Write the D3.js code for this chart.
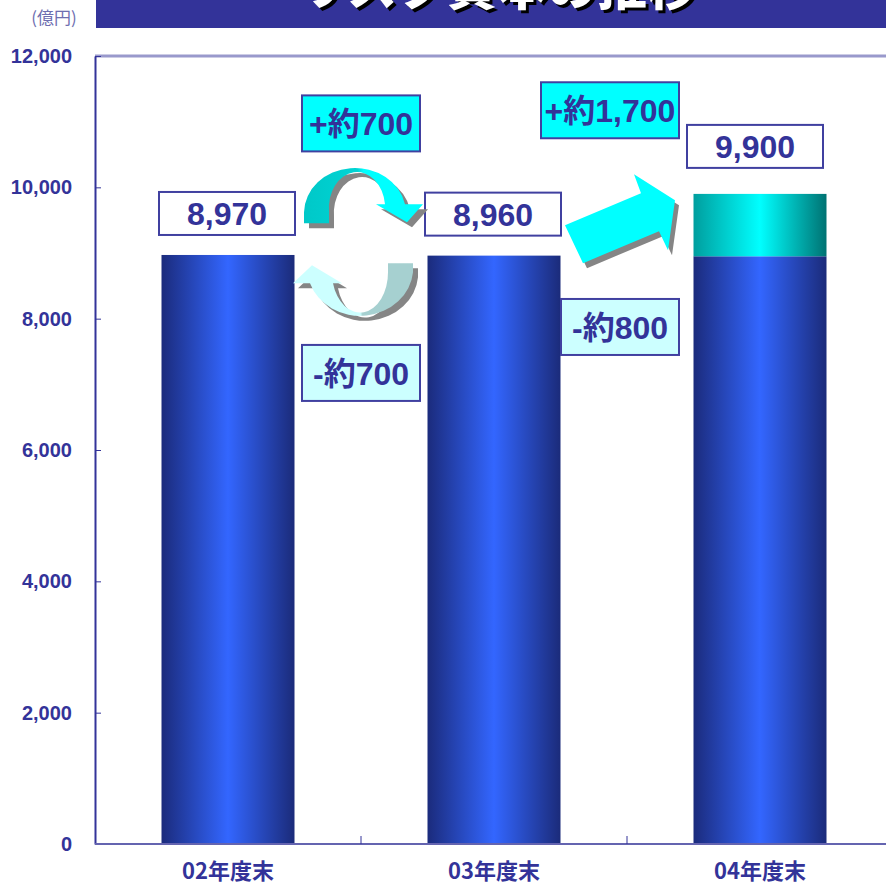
<!DOCTYPE html>
<html>
<head>
<meta charset="utf-8">
<script src="https://cdn.jsdelivr.net/npm/d3@7"></script>
<style>
  body { margin: 0; background: #fff; }
  svg { display: block; }
  text { font-family: "Liberation Sans", Arial, "Noto Sans CJK JP", sans-serif; font-weight: bold; }
</style>
</head>
<body>
<svg id="chart" width="886" height="884"></svg>
<script>
// data
const categories = ['02年度末', '03年度末', '04年度末'];
const baseValues = [8970, 8960, 8950];
const addedValues = [0, 0, 950];
const totalLabels = ['8,970', '8,960', '9,900'];
const yTicks = [0, 2000, 4000, 6000, 8000, 10000, 12000];
const changeLabels = ['+約700', '-約700', '+約1,700', '-約800'];

const svg = d3.select('#chart');
const ink = '#333399';

const x = d3.scaleBand()
    .domain(categories)
    .range([95, 893])
    .paddingInner(0.5)
    .paddingOuter(0.25);

const y = d3.scaleLinear()
    .domain([0, 12000])
    .range([844, 56]);

const defs = svg.append('defs');

function hGrad(id, stops) {
    const g = defs.append('linearGradient').attr('id', id)
        .attr('x1', 0).attr('x2', 1).attr('y1', 0).attr('y2', 0);
    stops.forEach(s => g.append('stop').attr('offset', s[0]).attr('stop-color', s[1]));
}
hGrad('barBlue', [[0, '#1b2b7c'], [0.5, '#3366ff'], [1, '#1b2b7a']]);
hGrad('barTeal', [[0, '#009e9e'], [0.5, '#00ffff'], [1, '#007272']]);
hGrad('arrowTop', [[0, '#00c8c8'], [0.45, '#00d4d4'], [0.5, '#00ffff'], [1, '#00ffff']]);
hGrad('arrowBottom', [[0, '#ccffff'], [0.56, '#ccffff'], [0.58, '#a6d0d0'], [1, '#a6d0d0']]);

// title band (cut off at top, as in the original)
svg.append('rect')
    .attr('x', 96).attr('y', 0)
    .attr('width', 790).attr('height', 28)
    .attr('fill', ink);

const title = 'リスク資本の推移';
svg.append('text')
    .attr('x', 500).attr('y', 8)
    .attr('text-anchor', 'middle')
    .attr('font-size', 50)
    .attr('fill', '#000')
    .style('font-family', '"Noto Sans CJK JP"')
    .style('font-weight', 900)
    .text(title);
svg.append('text')
    .attr('x', 497).attr('y', 5)
    .attr('text-anchor', 'middle')
    .attr('font-size', 50)
    .attr('fill', '#fff')
    .style('font-family', '"Noto Sans CJK JP"')
    .style('font-weight', 900)
    .text(title);

svg.append('text')
    .attr('x', 54).attr('y', 24)
    .attr('text-anchor', 'middle')
    .attr('font-size', 17)
    .attr('fill', '#6e6eb0')
    .style('font-family', '"Noto Sans CJK JP"')
    .style('font-weight', 400)
    .text('(億円)');

// top frame line
svg.append('line')
    .attr('x1', 95).attr('x2', 886)
    .attr('y1', y(12000)).attr('y2', y(12000))
    .attr('stroke', '#9999cc').attr('stroke-width', 3);

// bars
const bw = x.bandwidth();
const bars = svg.append('g');
bars.selectAll('rect.base')
    .data(categories)
    .enter().append('rect')
    .attr('class', 'base')
    .attr('x', d => x(d))
    .attr('y', (d, i) => y(baseValues[i]))
    .attr('width', bw)
    .attr('height', (d, i) => y(0) - y(baseValues[i]))
    .attr('fill', 'url(#barBlue)');

bars.selectAll('rect.add')
    .data(categories.filter((d, i) => addedValues[i] > 0))
    .enter().append('rect')
    .attr('class', 'add')
    .attr('x', d => x(d))
    .attr('y', d => {
        const i = categories.indexOf(d);
        return y(baseValues[i] + addedValues[i]);
    })
    .attr('width', bw)
    .attr('height', d => {
        const i = categories.indexOf(d);
        return y(baseValues[i]) - y(baseValues[i] + addedValues[i]);
    })
    .attr('fill', 'url(#barTeal)');

// y axis
const yAxis = svg.append('g')
    .attr('transform', 'translate(95,0)')
    .call(d3.axisLeft(y)
        .tickValues(yTicks)
        .tickFormat(d3.format(','))
        .tickSize(-6)
        .tickSizeOuter(0)
        .tickPadding(23));
yAxis.select('.domain').attr('stroke', ink).attr('stroke-width', 2);
yAxis.selectAll('.tick line').attr('stroke', ink);
yAxis.selectAll('.tick text')
    .attr('fill', ink)
    .attr('font-size', 20)
    .style('font-family', '"Liberation Sans", Arial, sans-serif');

// x axis
const xAxis = svg.append('g')
    .attr('transform', `translate(0,${y(0)})`)
    .call(d3.axisBottom(x).tickSize(0).tickPadding(19));
xAxis.select('.domain').attr('stroke', '#6464b0').attr('stroke-width', 2)
    .attr('d', 'M95,0H886');
xAxis.selectAll('.tick text')
    .attr('fill', ink)
    .attr('font-size', 22)
    .style('font-family', '"Noto Sans CJK JP"')
    .style('font-weight', 700);

const step = x.step();
const bounds = categories.slice(0, -1).map(c => x(c) + bw + (step - bw) / 2);
xAxis.selectAll('line.sep')
    .data(bounds)
    .enter().append('line')
    .attr('class', 'sep')
    .attr('x1', d => d).attr('x2', d => d)
    .attr('y1', 0).attr('y2', -8)
    .attr('stroke', ink);

// total labels above bars
const boxW = 136, boxH = 43;
const totals = baseValues.map((v, i) => v + addedValues[i]);
const lbl = svg.append('g').selectAll('g')
    .data(categories)
    .enter().append('g')
    .attr('transform', (d, i) => {
        const cx = x(d) + bw / 2 - (i === 2 ? 5 : 1);
        const top = y(totals[i]) - 20 - boxH - (i === 2 ? 6 : 0);
        return `translate(${cx},${top})`;
    });
lbl.append('rect')
    .attr('x', -boxW / 2).attr('y', 0)
    .attr('width', boxW).attr('height', boxH)
    .attr('fill', '#fff')
    .attr('stroke', '#4040a0').attr('stroke-width', 2);
lbl.append('text')
    .attr('x', 0).attr('y', boxH / 2 + 11.5)
    .attr('text-anchor', 'middle')
    .attr('font-size', 32)
    .attr('fill', ink)
    .text((d, i) => totalLabels[i]);

// arrows (decoration, anchored to the gaps between bars)
const a1x = bounds[0], a1y = y(9500);
const a2x = bounds[1], a2y = y(9500);

const topArrow = 'M-57,3 L-57,-8 A51,45 0 0 1 44,-16 L62,-16 L46,2 L15,-16 L24,-16 A28,36 0 0 0 -32,-8 L-32,3 Z';
const bottomArrow = 'M52,43 L52,52 A53,48 0 0 1 -51,63 L-68,63 L-49,45 L-19,63 L-28,63 A28,40 0 0 0 27,52 L27,43 Z';
const bigArrow = 'M-62,5 L14,-27 L7,-46 L48,-20 L41,30 L32,11 L-44,43 Z';

function drawArrow(d, ax, ay, fill, sx, sy) {
    const g = svg.append('g').attr('transform', `translate(${ax},${ay})`);
    g.append('path').attr('d', d).attr('fill', '#858585')
        .attr('transform', `translate(${sx},${sy})`);
    g.append('path').attr('d', d).attr('fill', fill);
}
drawArrow(topArrow, a1x, a1y, 'url(#arrowTop)', 5, 5);
drawArrow(bottomArrow, a1x, a1y, 'url(#arrowBottom)', 5, 5);
drawArrow(bigArrow, a2x, a2y, '#00ffff', 4, 5);

// change boxes
const changeFill = ['#00ffff', '#ccffff', '#00ffff', '#ccffff'];
const changePos = [
    { cx: bounds[0], top: y(11400), w: 118 },
    { cx: bounds[0], top: y(7600), w: 118 },
    { cx: bounds[1] - 17, top: y(11600), w: 138 },
    { cx: bounds[1] - 7, top: y(8300), w: 118 }
];
const chg = svg.append('g').selectAll('g')
    .data(changeLabels)
    .enter().append('g')
    .attr('transform', (d, i) => `translate(${changePos[i].cx},${changePos[i].top})`);
chg.append('rect')
    .attr('x', (d, i) => -changePos[i].w / 2).attr('y', 0)
    .attr('width', (d, i) => changePos[i].w).attr('height', 56)
    .attr('fill', (d, i) => changeFill[i])
    .attr('stroke', '#4040a0').attr('stroke-width', 2);
chg.append('text')
    .attr('x', 0).attr('y', 40)
    .attr('text-anchor', 'middle')
    .attr('font-size', 32)
    .attr('fill', ink)
    .text(d => d);
</script>
</body>
</html>
